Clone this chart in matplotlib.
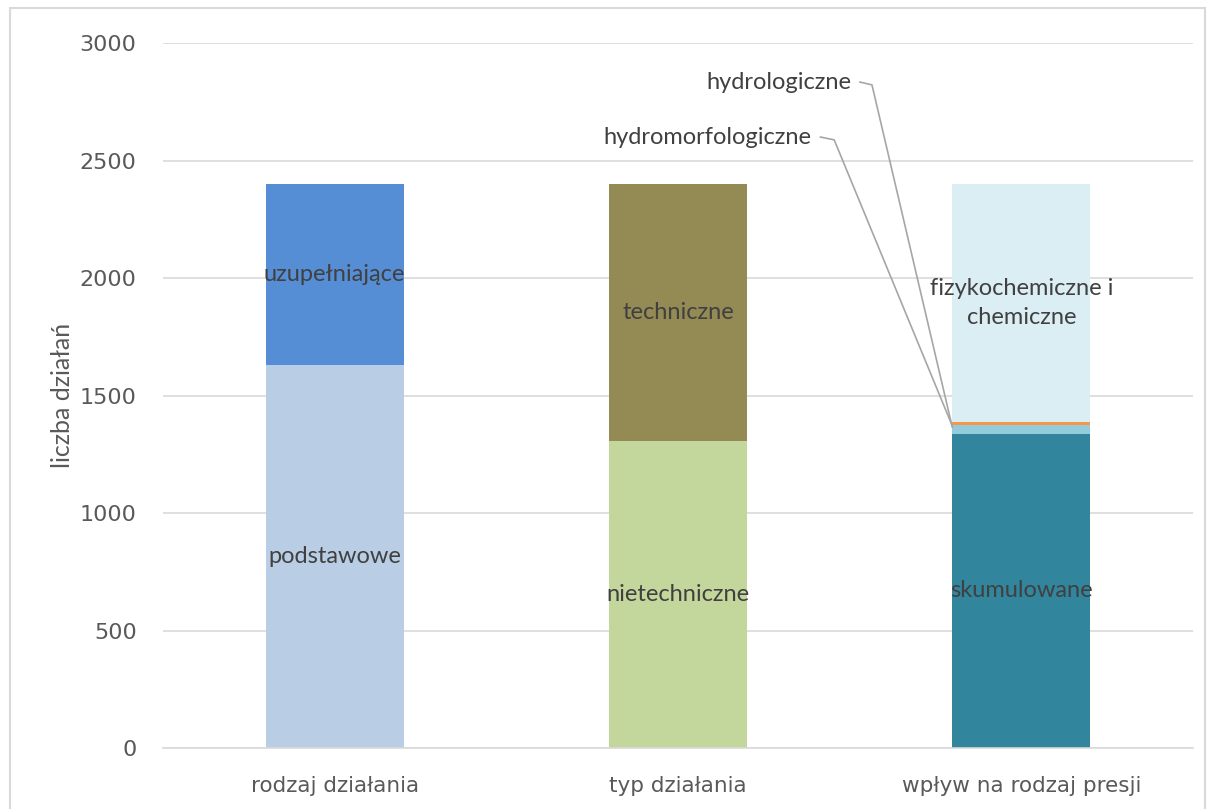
import matplotlib
matplotlib.use("Agg")
import matplotlib.pyplot as plt
from matplotlib.patches import Rectangle

categories = ["rodzaj działania", "typ działania", "wpływ na rodzaj presji"]

# stacked segments per bar (bottom -> top)
bar1_names = ["podstawowe", "uzupełniające"]
bar1_vals = [1630, 770]
bar2_names = ["nietechniczne", "techniczne"]
bar2_vals = [1306, 1094]
bar3_names = ["skumulowane", "hydromorfologiczne", "hydrologiczne", "fizykochemiczne i\nchemiczne"]
bar3_vals = [1337, 37, 13, 1013]

bar1_colors = ["#B9CDE5", "#558ED5"]
bar2_colors = ["#C3D69B", "#948A54"]
bar3_colors = ["#31859C", "#93CDDD", "#F79646", "#DBEEF4"]

txt = "#595959"
grid = "#D9D9D9"
lab_fs = 17

fig = plt.figure(figsize=(12.11, 8.09), dpi=100)
ax = fig.add_axes([0.1346, 0.0754, 0.8505, 0.8714])

w = 0.402
bars = [(bar1_names, bar1_vals, bar1_colors),
        (bar2_names, bar2_vals, bar2_colors),
        (bar3_names, bar3_vals, bar3_colors)]

for i, (names, vals, cols) in enumerate(bars):
    bottom = 0
    for n, v, c in zip(names, vals, cols):
        ax.bar(i, v, width=w, bottom=bottom, color=c, zorder=2)
        if v > 200:
            ax.text(i, bottom + v / 2, n, ha="center", va="center",
                    fontsize=lab_fs, color="#404040", family="Lato", zorder=3,
                    linespacing=1.45)
        bottom += v

# leader-line labels for the thin segments of the third bar
b3 = bar3_vals
y_hm = b3[0] + b3[1] / 2
y_hl = b3[0] + b3[1] + b3[2] / 2
edge = 2 - w / 2
ax.text(1.39, 2600, "hydromorfologiczne", ha="right", va="center",
        fontsize=lab_fs, color="#404040", family="Lato")
ax.plot([1.415, 1.455, edge], [2600, 2588, y_hm + 15], color="#A6A6A6", lw=1.2, zorder=4)
ax.text(1.505, 2834, "hydrologiczne", ha="right", va="center",
        fontsize=lab_fs, color="#404040", family="Lato")
ax.plot([1.53, 1.565, edge], [2834, 2822, y_hl - 15], color="#A6A6A6", lw=1.2, zorder=4)

ax.set_xlim(-0.5, 2.5)
ax.set_ylim(0, 3000)
ax.set_yticks(range(0, 3001, 500))
ax.set_xticks(range(len(categories)))
ax.set_xticklabels(categories, fontsize=15.5, color=txt, family="DejaVu Sans")
ax.tick_params(axis="y", labelsize=16, colors=txt, length=0, pad=19)
ax.tick_params(axis="x", length=0, pad=20)
for lab in ax.get_yticklabels():
    lab.set_family("DejaVu Sans")
ax.grid(axis="y", color=grid, lw=1.2, zorder=0)
ax.set_axisbelow(True)
for s in ["top", "right", "left"]:
    ax.spines[s].set_visible(False)
ax.spines["bottom"].set_color(grid)
ax.spines["bottom"].set_linewidth(1.2)
ax.set_ylabel("liczba działań", fontsize=18, color=txt, family="Lato", labelpad=4)

fig.patches.append(Rectangle((10 / 1211, -0.02), 1195 / 1211, 1.02 - 8 / 809,
                             transform=fig.transFigure, fill=False,
                             edgecolor=grid, lw=1.5))

fig.savefig("out.png", dpi=100)
